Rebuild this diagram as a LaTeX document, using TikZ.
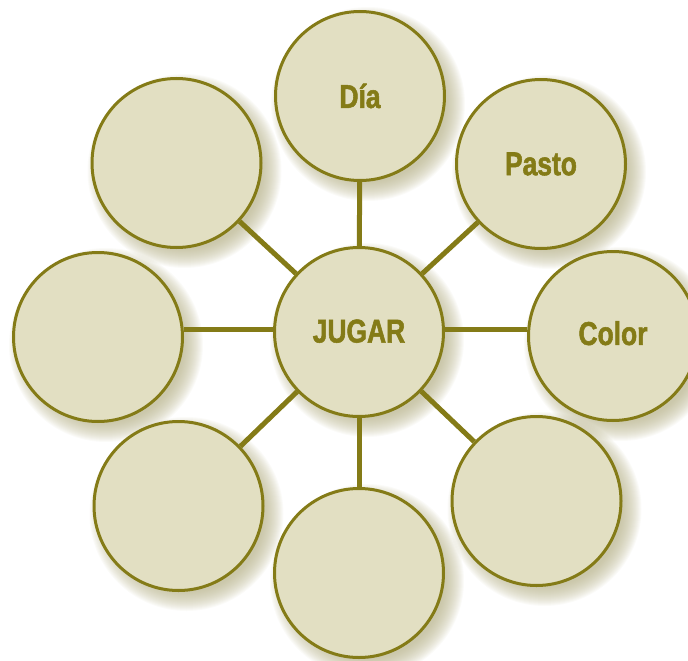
\documentclass[tikz,border=0pt]{standalone}
\usepackage{fontspec}
\setmainfont[FakeStretch=0.8, BoldFeatures={FakeBold=1.6}]{Liberation Sans}
\usepackage{tikz}

\definecolor{olivebd}{HTML}{847B17}
\definecolor{bubblefill}{HTML}{E2DFC2}
\definecolor{shadowc}{HTML}{B3AE84}

\pgfdeclarelayer{shade}
\pgfdeclarelayer{links}
\pgfsetlayers{shade,links,main}

\begin{document}
\begin{tikzpicture}[x=1pt, y=-1pt]
    \tikzstyle{bubble} = [circle, draw=olivebd, line width=3pt, fill=bubblefill, inner sep=0pt, minimum size=169pt, font=\fontsize{33}{33}\selectfont\bfseries, text=olivebd]
    \tikzstyle{link} = [olivebd, line width=5pt]

    \useasboundingbox (0,0) rectangle (688,661);

    % Centre word
    \node[bubble] (jugar) at (359,332) {\raisebox{2pt}{JUGAR}};

    % Outer circles
    \node[bubble] (dia) at (360,96) {Día};
    \node[bubble] (pasto) at (541,164) {Pasto};
    \node[bubble] (color) at (613,336) {\raisebox{6pt}{Color}};
    \node[bubble] (sureste) at (536.5,501) {};
    \node[bubble] (sur) at (359,573) {};
    \node[bubble] (suroeste) at (178.5,506) {};
    \node[bubble] (oeste) at (98,337) {};
    \node[bubble] (noroeste) at (176.5,163) {};

    % Soft shadows
    \begin{pgfonlayer}{shade}
    \foreach \n in {jugar,dia,pasto,color,sureste,sur,suroeste,oeste,noroeste} \foreach \k in {0,...,19} {
        \fill[shadowc, opacity=0.055] ([shift={(8,8)}]\n.center) circle ({97pt-\k pt});
    }
    \end{pgfonlayer}

    % Spokes
    \begin{pgfonlayer}{links}
    \foreach \n in {dia,pasto,sureste,sur,suroeste,noroeste} {
        \draw[link] (jugar) -- (\n);
    }
    \draw[link] ([yshift=3pt]jugar.west) -- ([yshift=3pt]jugar.west -| oeste.east);
    \draw[link] ([yshift=3pt]jugar.east) -- ([yshift=3pt]jugar.east -| color.west);
    \end{pgfonlayer}
\end{tikzpicture}
\end{document}
